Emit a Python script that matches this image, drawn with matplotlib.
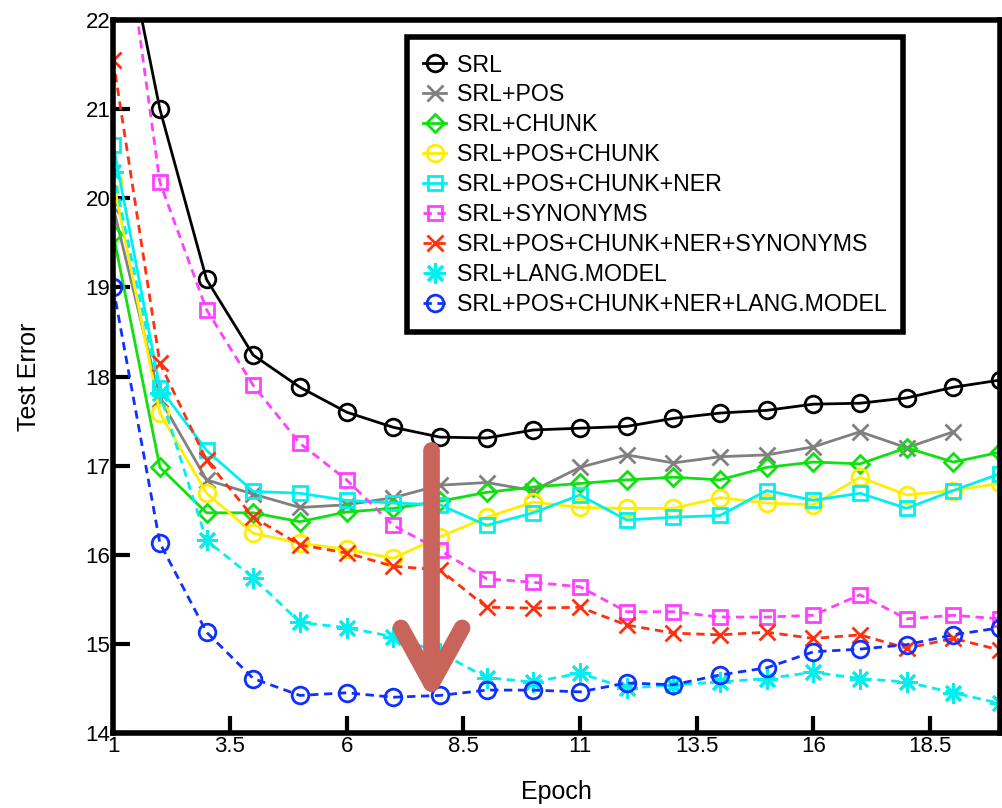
import numpy as np
import matplotlib.pyplot as plt

plt.rcParams['font.family'] = ['Liberation Sans', 'DejaVu Sans']

# test error per epoch
epochs = np.arange(1, 21)
srl = [23.6, 21.0, 19.09, 18.24, 17.88, 17.6, 17.43, 17.32, 17.31, 17.4,
       17.42, 17.44, 17.53, 17.59, 17.62, 17.69, 17.7, 17.76, 17.88, 17.96]
srl_pos = [19.9, 17.75, 16.84, 16.68, 16.53, 16.56, 16.64, 16.78, 16.81, 16.72,
           16.98, 17.12, 17.03, 17.1, 17.12, 17.21, 17.38, 17.2, 17.38]
srl_chunk = [19.6, 16.98, 16.47, 16.47, 16.37, 16.48, 16.52, 16.6, 16.7, 16.76,
             16.8, 16.84, 16.87, 16.84, 16.98, 17.04, 17.02, 17.2, 17.04, 17.15]
srl_pos_chunk = [20.2, 17.59, 16.69, 16.24, 16.13, 16.06, 15.96, 16.2, 16.42, 16.59,
                 16.53, 16.52, 16.52, 16.64, 16.58, 16.56, 16.87, 16.67, 16.72, 16.8]
srl_pos_chunk_ner = [20.6, 17.87, 17.17, 16.71, 16.69, 16.61, 16.58, 16.56, 16.33, 16.47,
                     16.67, 16.39, 16.42, 16.44, 16.72, 16.61, 16.69, 16.52, 16.72, 16.91]
srl_syn = [24.0, 20.18, 18.75, 17.9, 17.25, 16.84, 16.33, 16.05, 15.73, 15.69,
           15.64, 15.36, 15.36, 15.3, 15.3, 15.32, 15.55, 15.28, 15.32, 15.28]
srl_all_syn = [21.55, 18.15, 17.06, 16.42, 16.11, 16.02, 15.87, 15.83, 15.41, 15.4,
               15.41, 15.21, 15.12, 15.1, 15.13, 15.06, 15.1, 14.95, 15.06, 14.93]
srl_lm = [20.3, 17.81, 16.16, 15.74, 15.24, 15.18, 15.08, 14.9, 14.62, 14.57,
          14.67, 14.5, 14.54, 14.57, 14.61, 14.68, 14.61, 14.57, 14.45, 14.33]
srl_all_lm = [19.0, 16.13, 15.13, 14.61, 14.42, 14.45, 14.4, 14.42, 14.48, 14.48,
              14.46, 14.56, 14.54, 14.65, 14.73, 14.91, 14.94, 14.99, 15.1, 15.18]

labels = ["SRL", "SRL+POS", "SRL+CHUNK", "SRL+POS+CHUNK", "SRL+POS+CHUNK+NER",
          "SRL+SYNONYMS", "SRL+POS+CHUNK+NER+SYNONYMS", "SRL+LANG.MODEL",
          "SRL+POS+CHUNK+NER+LANG.MODEL"]
series = [srl, srl_pos, srl_chunk, srl_pos_chunk, srl_pos_chunk_ner,
          srl_syn, srl_all_syn, srl_lm, srl_all_lm]
colors = ["black", "#808080", "#10e010", "#ffee00", "#00f0f0",
          "#ff40ff", "#ff3010", "#00f0f0", "#1030ff"]
markers = ["o", "x", "D", "o", "s", "s", "x", (8, 2, 0), "o"]
styles = ["-", "-", "-", "-", "-", (0, (3, 2)), (0, (3, 2)), (0, (3, 2)), (0, (3, 2))]
msizes = [12, 12, 9, 12, 10, 10, 12, 15, 12]

fig = plt.figure(figsize=(10.02, 8.08), dpi=100)
ax = fig.add_axes([0.113, 0.093, 0.885, 0.882])

for vals, lab, c, m, ls, ms in zip(series, labels, colors, markers, styles, msizes):
    ax.plot(epochs[:len(vals)], vals, color=c, marker=m, linestyle=ls, label=lab,
            linewidth=2, markersize=ms, markerfacecolor='none', markeredgewidth=2)

ax.set_xlim(1, 20)
ax.set_ylim(14, 22)
ax.set_xticks([1, 3.5, 6, 8.5, 11, 13.5, 16, 18.5])
ax.set_xticklabels(["1", "3.5", "6", "8.5", "11", "13.5", "16", "18.5"])
ax.set_yticks(range(14, 23))
ax.tick_params(direction='in', length=12, width=3, labelsize=16, pad=2)
for s in ax.spines.values():
    s.set_linewidth(4)

ax.set_xlabel("Epoch", fontsize=18, labelpad=17)
ax.set_ylabel("Test Error", fontsize=18, labelpad=32)

# arrow pointing at the drop around epoch 8
ax.annotate("", xy=(7.82, 14.36), xytext=(7.82, 17.17),
            arrowprops=dict(arrowstyle="->,head_length=4.0,head_width=2.2",
                            mutation_scale=10, color="#c8645a", lw=12,
                            shrinkA=0, shrinkB=0))

leg = ax.legend(loc='upper left', bbox_to_anchor=(0.331, 0.976), borderaxespad=0,
                fontsize=16.7, handlelength=1.0, handletextpad=0.45, labelspacing=0.3,
                fancybox=False, framealpha=1, edgecolor='black', borderpad=0.7)
leg.get_frame().set_linewidth(4)

fig.savefig("out.png", dpi=100)
